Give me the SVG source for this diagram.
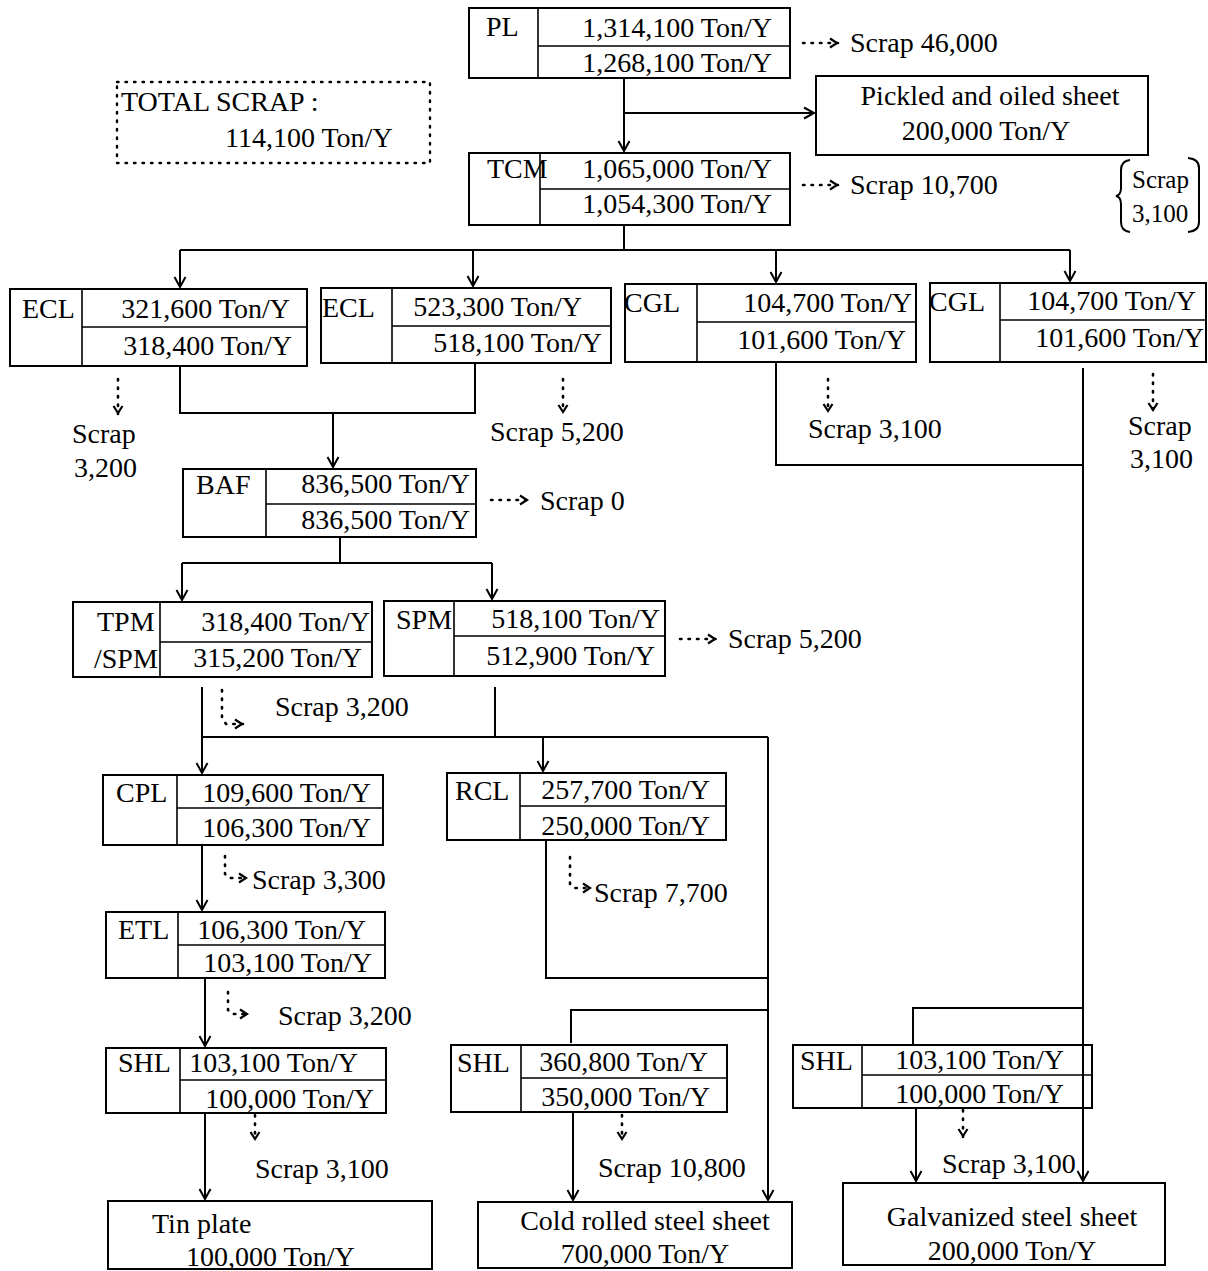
<svg xmlns="http://www.w3.org/2000/svg" width="1208" height="1271" viewBox="0 0 1208 1271">
<style>
rect,.ln{fill:none;stroke:#000;stroke-width:2}
.dv{fill:none;stroke:#000;stroke-width:1.6}
.dot{fill:none;stroke:#000;stroke-width:2.6;stroke-dasharray:1.5 7;stroke-linecap:round}
.dotbox{fill:none;stroke:#000;stroke-width:2.4;stroke-dasharray:1.5 7;stroke-linecap:round}
text{font-family:"Liberation Serif","Times New Roman",serif;font-size:28px;fill:#000}
.e{text-anchor:end}
.m{text-anchor:middle}
.sm{font-size:25px}
</style>
<defs>
<marker id="arr" markerUnits="userSpaceOnUse" markerWidth="14" markerHeight="14" viewBox="-1 -7 12 14" refX="10" refY="0" orient="auto">
<path d="M0,-5.5 L10,0 L0,5.5" fill="none" stroke="#000" stroke-width="2"/>
</marker>
<marker id="sarr" markerUnits="userSpaceOnUse" markerWidth="12" markerHeight="12" viewBox="-1 -6 10 12" refX="8" refY="0" orient="auto">
<path d="M0,-4.5 L7,0 L0,4.5" fill="none" stroke="#000" stroke-width="2.2"/>
</marker>
</defs>

<g id="connectors">
<path class="ln" d="M624,78 V151" marker-end="url(#arr)"/>
<path class="ln" d="M624,113 H814" marker-end="url(#arr)"/>
<path class="ln" d="M624,225 V250 M180,250 H1070"/>
<path class="ln" d="M180,250 V287" marker-end="url(#arr)"/>
<path class="ln" d="M473,250 V286" marker-end="url(#arr)"/>
<path class="ln" d="M776,250 V282" marker-end="url(#arr)"/>
<path class="ln" d="M1070,250 V281" marker-end="url(#arr)"/>
<path class="ln" d="M180,366 V413 H475 V363"/>
<path class="ln" d="M333,413 V467" marker-end="url(#arr)"/>
<path class="ln" d="M776,362 V465 H1083"/>
<path class="ln" d="M1083,368 V1181" marker-end="url(#arr)"/>
<path class="ln" d="M340,537 V563 M182,563 H492"/>
<path class="ln" d="M182,563 V600" marker-end="url(#arr)"/>
<path class="ln" d="M492,563 V599" marker-end="url(#arr)"/>
<path class="ln" d="M202,687 V773" marker-end="url(#arr)"/>
<path class="ln" d="M495,687 V737 M202,737 H768"/>
<path class="ln" d="M543,737 V771" marker-end="url(#arr)"/>
<path class="ln" d="M768,737 V1200" marker-end="url(#arr)"/>
<path class="ln" d="M202,845 V910" marker-end="url(#arr)"/>
<path class="ln" d="M205,978 V1046" marker-end="url(#arr)"/>
<path class="ln" d="M205,1113 V1199" marker-end="url(#arr)"/>
<path class="ln" d="M546,840 V978 H768"/>
<path class="ln" d="M571,1043 V1010 H768"/>
<path class="ln" d="M573,1112 V1200" marker-end="url(#arr)"/>
<path class="ln" d="M913,1045 V1008 H1083"/>
<path class="ln" d="M916,1108 V1181" marker-end="url(#arr)"/>

<path class="dot" d="M803,43 H838" marker-end="url(#sarr)"/>
<path class="dot" d="M803,185 H838" marker-end="url(#sarr)"/>
<path class="dot" d="M491,500 H528" marker-end="url(#sarr)"/>
<path class="dot" d="M680,639 H716" marker-end="url(#sarr)"/>
<path class="dot" d="M118,379 V414" marker-end="url(#sarr)"/>
<path class="dot" d="M563,379 V413" marker-end="url(#sarr)"/>
<path class="dot" d="M828,379 V412" marker-end="url(#sarr)"/>
<path class="dot" d="M1153,374 V411" marker-end="url(#sarr)"/>
<path class="dot" d="M222,690 V718 L226,724 H243" marker-end="url(#sarr)"/>
<path class="dot" d="M225,856 V874 L229,878 H247" marker-end="url(#sarr)"/>
<path class="dot" d="M570,857 V884 L574,888 H591" marker-end="url(#sarr)"/>
<path class="dot" d="M228,992 V1010 L232,1014 H248" marker-end="url(#sarr)"/>
<path class="dot" d="M255,1115 V1140" marker-end="url(#sarr)"/>
<path class="dot" d="M622,1115 V1140" marker-end="url(#sarr)"/>
<path class="dot" d="M963,1110 V1137" marker-end="url(#sarr)"/>
</g>

<g id="total-scrap">
<rect class="dotbox" x="117" y="82" width="313" height="81"/>
<text x="121" y="111">TOTAL SCRAP :</text>
<text x="225" y="147">114,100 Ton/Y</text>
</g>

<g id="PL">
<rect x="469" y="8" width="321" height="70"/>
<path class="dv" d="M538,8 V78 M538,46 H790"/>
<text x="486" y="36">PL</text>
<text class="e" x="772" y="37">1,314,100 Ton/Y</text>
<text class="e" x="772" y="72">1,268,100 Ton/Y</text>
</g>
<g id="PL-scrap"><text x="850" y="52">Scrap 46,000</text></g>

<g id="pickled">
<rect x="816" y="76" width="332" height="79"/>
<text class="m" x="990" y="105">Pickled and oiled sheet</text>
<text class="m" x="986" y="140">200,000 Ton/Y</text>
</g>

<g id="TCM">
<rect x="469" y="153" width="321" height="72"/>
<path class="dv" d="M540,153 V225 M540,189 H790"/>
<text x="487" y="178">TCM</text>
<text class="e" x="772" y="178">1,065,000 Ton/Y</text>
<text class="e" x="772" y="213">1,054,300 Ton/Y</text>
</g>
<g id="TCM-scrap"><text x="850" y="194">Scrap 10,700</text></g>

<g id="bracket-scrap">
<path class="ln" d="M1130,160 Q1121,161 1121,170 V188 Q1121,195 1116,196 Q1121,197 1121,204 V222 Q1121,231 1130,232"/>
<path class="ln" d="M1188,158 Q1199,159 1199,168 V222 Q1199,231 1188,232"/>
<text class="sm" x="1132" y="188">Scrap</text>
<text class="sm" x="1132" y="222">3,100</text>
</g>

<g id="ECL1">
<rect x="10" y="289" width="297" height="77"/>
<path class="dv" d="M82,289 V366 M82,327 H307"/>
<text x="22" y="318">ECL</text>
<text class="e" x="290" y="318">321,600 Ton/Y</text>
<text class="e" x="292" y="355">318,400 Ton/Y</text>
</g>
<g id="ECL1-scrap"><text x="72" y="443">Scrap</text><text x="74" y="477">3,200</text></g>

<g id="ECL2">
<rect x="321" y="288" width="290" height="75"/>
<path class="dv" d="M392,288 V363 M392,326 H611"/>
<text x="322" y="317">ECL</text>
<text class="e" x="582" y="316">523,300 Ton/Y</text>
<text class="e" x="602" y="352">518,100 Ton/Y</text>
</g>
<g id="ECL2-scrap"><text x="490" y="441">Scrap 5,200</text></g>

<g id="CGL1">
<rect x="625" y="284" width="291" height="78"/>
<path class="dv" d="M697,284 V362 M697,322 H916"/>
<text x="624" y="312">CGL</text>
<text class="e" x="912" y="312">104,700 Ton/Y</text>
<text class="e" x="906" y="349">101,600 Ton/Y</text>
</g>
<g id="CGL1-scrap"><text x="808" y="438">Scrap 3,100</text></g>

<g id="CGL2">
<rect x="930" y="283" width="276" height="79"/>
<path class="dv" d="M1000,283 V362 M1000,320 H1206"/>
<text x="929" y="311">CGL</text>
<text class="e" x="1196" y="310">104,700 Ton/Y</text>
<text class="e" x="1204" y="347">101,600 Ton/Y</text>
</g>
<g id="CGL2-scrap"><text x="1128" y="435">Scrap</text><text x="1130" y="468">3,100</text></g>

<g id="BAF">
<rect x="183" y="469" width="293" height="68"/>
<path class="dv" d="M266,469 V537 M266,504 H476"/>
<text x="196" y="494">BAF</text>
<text class="e" x="470" y="493">836,500 Ton/Y</text>
<text class="e" x="470" y="529">836,500 Ton/Y</text>
</g>
<g id="BAF-scrap"><text x="540" y="510">Scrap 0</text></g>

<g id="TPM">
<rect x="73" y="602" width="299" height="75"/>
<path class="dv" d="M160,602 V677 M160,642 H372"/>
<text x="97" y="631">TPM</text>
<text x="94" y="668">/SPM</text>
<text class="e" x="370" y="631">318,400 Ton/Y</text>
<text class="e" x="362" y="667">315,200 Ton/Y</text>
</g>
<g id="TPM-scrap"><text x="275" y="716">Scrap 3,200</text></g>

<g id="SPM">
<rect x="384" y="601" width="281" height="75"/>
<path class="dv" d="M454,601 V676 M454,636 H665"/>
<text x="396" y="629">SPM</text>
<text class="e" x="660" y="628">518,100 Ton/Y</text>
<text class="e" x="655" y="665">512,900 Ton/Y</text>
</g>
<g id="SPM-scrap"><text x="728" y="648">Scrap 5,200</text></g>

<g id="CPL">
<rect x="103" y="775" width="280" height="70"/>
<path class="dv" d="M177,775 V845 M177,808 H383"/>
<text x="116" y="802">CPL</text>
<text class="e" x="371" y="802">109,600 Ton/Y</text>
<text class="e" x="371" y="837">106,300 Ton/Y</text>
</g>
<g id="CPL-scrap"><text x="252" y="889">Scrap 3,300</text></g>

<g id="RCL">
<rect x="447" y="773" width="279" height="67"/>
<path class="dv" d="M520,773 V840 M520,806 H726"/>
<text x="455" y="800">RCL</text>
<text class="e" x="710" y="799">257,700 Ton/Y</text>
<text class="e" x="710" y="835">250,000 Ton/Y</text>
</g>
<g id="RCL-scrap"><text x="594" y="902">Scrap 7,700</text></g>

<g id="ETL">
<rect x="106" y="912" width="279" height="66"/>
<path class="dv" d="M178,912 V978 M178,945 H385"/>
<text x="118" y="939">ETL</text>
<text class="e" x="366" y="939">106,300 Ton/Y</text>
<text class="e" x="372" y="972">103,100 Ton/Y</text>
</g>
<g id="ETL-scrap"><text x="278" y="1025">Scrap 3,200</text></g>

<g id="SHL1">
<rect x="106" y="1048" width="280" height="65"/>
<path class="dv" d="M180,1048 V1113 M180,1080 H386"/>
<text x="118" y="1072">SHL</text>
<text class="e" x="358" y="1072">103,100 Ton/Y</text>
<text class="e" x="374" y="1108">100,000 Ton/Y</text>
</g>
<g id="SHL1-scrap"><text x="255" y="1178">Scrap 3,100</text></g>

<g id="SHL2">
<rect x="451" y="1045" width="276" height="67"/>
<path class="dv" d="M521,1045 V1112 M521,1078 H727"/>
<text x="457" y="1072">SHL</text>
<text class="e" x="708" y="1071">360,800 Ton/Y</text>
<text class="e" x="710" y="1106">350,000 Ton/Y</text>
</g>
<g id="SHL2-scrap"><text x="598" y="1177">Scrap 10,800</text></g>

<g id="SHL3">
<rect x="793" y="1045" width="299" height="63"/>
<path class="dv" d="M862,1045 V1108 M862,1075 H1092"/>
<text x="800" y="1070">SHL</text>
<text class="e" x="1064" y="1069">103,100 Ton/Y</text>
<text class="e" x="1064" y="1103">100,000 Ton/Y</text>
</g>
<g id="SHL3-scrap"><text x="942" y="1173">Scrap 3,100</text></g>

<g id="tin-plate">
<rect x="108" y="1201" width="324" height="68"/>
<text x="152" y="1233">Tin plate</text>
<text x="186" y="1266">100,000 Ton/Y</text>
</g>

<g id="cold-rolled">
<rect x="478" y="1202" width="314" height="66"/>
<text class="m" x="645" y="1230">Cold rolled steel sheet</text>
<text class="m" x="645" y="1263">700,000 Ton/Y</text>
</g>

<g id="galvanized">
<rect x="843" y="1183" width="322" height="82"/>
<text class="m" x="1012" y="1226">Galvanized steel sheet</text>
<text class="m" x="1012" y="1260">200,000 Ton/Y</text>
</g>
</svg>
